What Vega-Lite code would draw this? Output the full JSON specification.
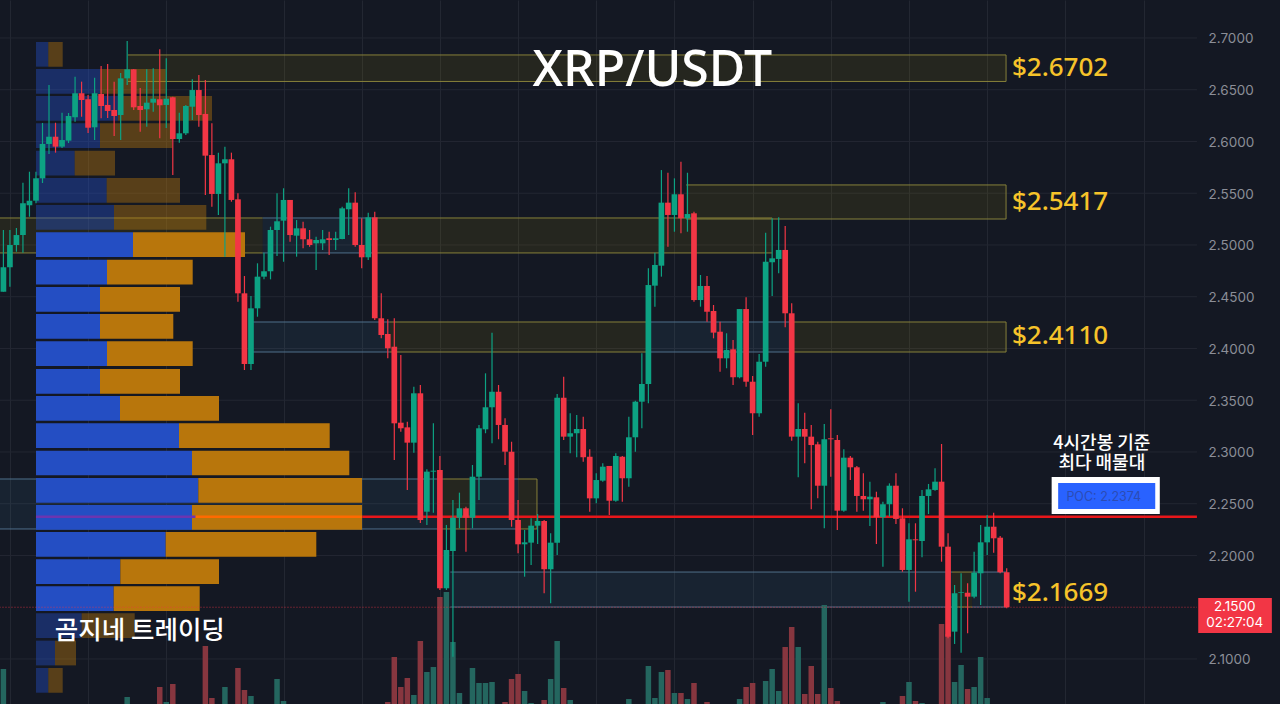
{
  "$schema": "https://vega.github.io/schema/vega-lite/v6.json",
  "width": 1280,
  "height": 704,
  "padding": 0,
  "autosize": {"type": "none"},
  "background": "#141823",
  "view": {"stroke": null},
  "datasets": {
    "zones": [
      {"k":"y","a":19.1,"b":153.9,"lo":2.658,"hi":2.6836,"cap":true},
      {"k":"y","a":-0.6,"b":39.8,"lo":2.4923,"hi":2.5261},
      {"k":"b","a":39.8,"b":57.2,"lo":2.4923,"hi":2.5261},
      {"k":"y","a":57.2,"b":118,"lo":2.4923,"hi":2.5261},
      {"k":"y","a":104.8,"b":153.9,"lo":2.5251,"hi":2.558,"cap":true},
      {"k":"b","a":38.3,"b":59.3,"lo":2.3966,"hi":2.4256},
      {"k":"y","a":59.3,"b":99.3,"lo":2.3966,"hi":2.4256},
      {"k":"b","a":99.3,"b":120.7,"lo":2.3966,"hi":2.4256},
      {"k":"y","a":120.7,"b":153.9,"lo":2.3966,"hi":2.4256,"cap":true},
      {"k":"b","a":-0.6,"b":67.5,"lo":2.2256,"hi":2.2739},
      {"k":"y","a":67.5,"b":71.6,"lo":2.2256,"hi":2.2739},
      {"k":"b","a":71.6,"b":79,"lo":2.2256,"hi":2.2739},
      {"k":"y","a":79,"b":81.9,"lo":2.2256,"hi":2.2739,"cap":true},
      {"k":"b","a":68.6,"b":145.6,"lo":2.1502,"hi":2.184},
      {"k":"y","a":145.6,"b":148.7,"lo":2.1502,"hi":2.184},
      {"k":"b","a":148.7,"b":153.9,"lo":2.1502,"hi":2.184}
    ],
    "bins": [
      {"hi":2.6961,"lo":2.6723,"base":0,"buy":12.3,"total":26.7,"va":"out"},
      {"hi":2.67,"lo":2.6462,"base":0,"buy":64,"total":129.7,"va":"out"},
      {"hi":2.6439,"lo":2.6201,"base":0,"buy":82,"total":176,"va":"out"},
      {"hi":2.6176,"lo":2.5937,"base":0,"buy":64,"total":136,"va":"out"},
      {"hi":2.5911,"lo":2.5672,"base":0,"buy":38.7,"total":79,"va":"out"},
      {"hi":2.5647,"lo":2.5409,"base":0,"buy":70.7,"total":144,"va":"out"},
      {"hi":2.5386,"lo":2.5148,"base":0,"buy":78,"total":170.3,"va":"out"},
      {"hi":2.5123,"lo":2.4884,"base":0,"buy":97,"total":209,"va":"in"},
      {"hi":2.4858,"lo":2.4619,"base":0,"buy":71,"total":156.7,"va":"in"},
      {"hi":2.4594,"lo":2.4355,"base":0,"buy":64,"total":144,"va":"in"},
      {"hi":2.4333,"lo":2.4095,"base":0,"buy":64,"total":137.3,"va":"in"},
      {"hi":2.4069,"lo":2.3831,"base":0,"buy":71,"total":156.7,"va":"in"},
      {"hi":2.3802,"lo":2.3563,"base":0,"buy":64,"total":144,"va":"in"},
      {"hi":2.3541,"lo":2.3302,"base":0,"buy":84,"total":183,"va":"in"},
      {"hi":2.3277,"lo":2.3038,"base":0,"buy":143,"total":293.7,"va":"in"},
      {"hi":2.3012,"lo":2.2774,"base":0,"buy":156,"total":313.3,"va":"in"},
      {"hi":2.2749,"lo":2.251,"base":0,"buy":162.3,"total":326,"va":"in"},
      {"hi":2.2488,"lo":2.2249,"base":0,"buy":156,"total":326,"va":"in"},
      {"hi":2.2227,"lo":2.1988,"base":0,"buy":129.7,"total":280.3,"va":"in"},
      {"hi":2.1963,"lo":2.1724,"base":0,"buy":84.3,"total":183,"va":"in"},
      {"hi":2.1702,"lo":2.1464,"base":0,"buy":77.7,"total":163.7,"va":"in"},
      {"hi":2.1441,"lo":2.1203,"base":0,"buy":45.7,"total":98.7,"va":"out"},
      {"hi":2.1177,"lo":2.0938,"base":0,"buy":19,"total":40,"va":"out"},
      {"hi":2.0913,"lo":2.0674,"base":0,"buy":12.3,"total":26.7,"va":"out"}
    ],
    "candles": [
      {"i":0,"o":2.4549,"h":2.5145,"l":2.4549,"c":2.4784,"d":"up","v":3.5},
      {"i":1,"o":2.4784,"h":2.5145,"l":2.4597,"c":2.5,"d":"up"},
      {"i":2,"o":2.5,"h":2.5164,"l":2.4935,"c":2.5096,"d":"up"},
      {"i":3,"o":2.5096,"h":2.5602,"l":2.4925,"c":2.5403,"d":"up"},
      {"i":4,"o":2.5383,"h":2.5708,"l":2.5273,"c":2.5428,"d":"up"},
      {"i":5,"o":2.5428,"h":2.5708,"l":2.5403,"c":2.5644,"d":"up"},
      {"i":6,"o":2.5644,"h":2.6179,"l":2.5599,"c":2.5976,"d":"up"},
      {"i":7,"o":2.5976,"h":2.6546,"l":2.5879,"c":2.6046,"d":"up"},
      {"i":8,"o":2.6046,"h":2.6181,"l":2.5892,"c":2.595,"d":"down"},
      {"i":9,"o":2.595,"h":2.6278,"l":2.5937,"c":2.6014,"d":"up"},
      {"i":10,"o":2.6008,"h":2.6275,"l":2.5985,"c":2.6246,"d":"up"},
      {"i":11,"o":2.6234,"h":2.6626,"l":2.6191,"c":2.6466,"d":"up"},
      {"i":12,"o":2.6466,"h":2.6578,"l":2.6239,"c":2.6401,"d":"down"},
      {"i":13,"o":2.6408,"h":2.6449,"l":2.6082,"c":2.6133,"d":"down"},
      {"i":14,"o":2.6137,"h":2.6616,"l":2.6014,"c":2.6466,"d":"up"},
      {"i":15,"o":2.6459,"h":2.6729,"l":2.6224,"c":2.6343,"d":"down"},
      {"i":16,"o":2.6353,"h":2.6749,"l":2.6227,"c":2.6295,"d":"down"},
      {"i":17,"o":2.6304,"h":2.6578,"l":2.6053,"c":2.6246,"d":"down"},
      {"i":18,"o":2.6256,"h":2.6662,"l":2.6014,"c":2.661,"d":"up"},
      {"i":19,"o":2.661,"h":2.6971,"l":2.6546,"c":2.6697,"d":"up","v":0.7},
      {"i":20,"o":2.6697,"h":2.67,"l":2.6304,"c":2.633,"d":"down"},
      {"i":21,"o":2.6343,"h":2.6517,"l":2.6095,"c":2.6304,"d":"down"},
      {"i":22,"o":2.6311,"h":2.6697,"l":2.6143,"c":2.6375,"d":"up"},
      {"i":23,"o":2.6375,"h":2.6707,"l":2.6288,"c":2.6413,"d":"up"},
      {"i":24,"o":2.6408,"h":2.6891,"l":2.6031,"c":2.635,"d":"down","v":1.7},
      {"i":25,"o":2.6353,"h":2.6804,"l":2.613,"c":2.6413,"d":"up","v":0.2},
      {"i":26,"o":2.6427,"h":2.6433,"l":2.5676,"c":2.6024,"d":"down","v":2},
      {"i":27,"o":2.6024,"h":2.6278,"l":2.5988,"c":2.6079,"d":"up"},
      {"i":28,"o":2.6079,"h":2.6353,"l":2.6063,"c":2.6343,"d":"up"},
      {"i":29,"o":2.6336,"h":2.6601,"l":2.6208,"c":2.6497,"d":"up"},
      {"i":30,"o":2.6497,"h":2.6642,"l":2.6143,"c":2.6256,"d":"down"},
      {"i":31,"o":2.6266,"h":2.6594,"l":2.5483,"c":2.5863,"d":"down","v":5.8},
      {"i":32,"o":2.5869,"h":2.6176,"l":2.537,"c":2.5493,"d":"down","v":0.6},
      {"i":33,"o":2.5493,"h":2.5892,"l":2.529,"c":2.5789,"d":"up"},
      {"i":34,"o":2.5789,"h":2.595,"l":2.4887,"c":2.5828,"d":"up","v":1.7},
      {"i":35,"o":2.5828,"h":2.5892,"l":2.5418,"c":2.5435,"d":"down"},
      {"i":36,"o":2.5441,"h":2.5499,"l":2.4452,"c":2.4533,"d":"down","v":3.6},
      {"i":37,"o":2.4533,"h":2.47,"l":2.3792,"c":2.385,"d":"down","v":1.4},
      {"i":38,"o":2.385,"h":2.4507,"l":2.3792,"c":2.4388,"d":"up","v":0.8},
      {"i":39,"o":2.4388,"h":2.4823,"l":2.4307,"c":2.4694,"d":"up"},
      {"i":40,"o":2.4694,"h":2.4925,"l":2.4668,"c":2.4746,"d":"up"},
      {"i":41,"o":2.4746,"h":2.5177,"l":2.4668,"c":2.5145,"d":"up"},
      {"i":42,"o":2.5145,"h":2.5499,"l":2.4894,"c":2.5229,"d":"up","v":2.5},
      {"i":43,"o":2.5235,"h":2.5548,"l":2.4838,"c":2.5435,"d":"up","v":0.3},
      {"i":44,"o":2.5435,"h":2.5435,"l":2.5032,"c":2.5096,"d":"down"},
      {"i":45,"o":2.509,"h":2.5241,"l":2.4887,"c":2.5161,"d":"up"},
      {"i":46,"o":2.5161,"h":2.5225,"l":2.4968,"c":2.5055,"d":"down"},
      {"i":47,"o":2.5055,"h":2.5145,"l":2.4983,"c":2.5,"d":"down"},
      {"i":48,"o":2.5016,"h":2.508,"l":2.4758,"c":2.5048,"d":"up"},
      {"i":49,"o":2.5016,"h":2.5145,"l":2.4952,"c":2.5055,"d":"up"},
      {"i":50,"o":2.5065,"h":2.5128,"l":2.4903,"c":2.5048,"d":"down"},
      {"i":51,"o":2.5048,"h":2.5128,"l":2.4952,"c":2.5065,"d":"up"},
      {"i":52,"o":2.5058,"h":2.537,"l":2.5055,"c":2.5354,"d":"up"},
      {"i":53,"o":2.5345,"h":2.5548,"l":2.5096,"c":2.5409,"d":"up"},
      {"i":54,"o":2.5409,"h":2.5509,"l":2.4983,"c":2.5,"d":"down"},
      {"i":55,"o":2.5,"h":2.5258,"l":2.4775,"c":2.4881,"d":"down"},
      {"i":56,"o":2.4881,"h":2.5312,"l":2.4855,"c":2.5267,"d":"up"},
      {"i":57,"o":2.5267,"h":2.5322,"l":2.4275,"c":2.4292,"d":"down"},
      {"i":58,"o":2.4292,"h":2.4533,"l":2.4098,"c":2.413,"d":"down"},
      {"i":59,"o":2.414,"h":2.4282,"l":2.3905,"c":2.4002,"d":"down","v":0.2},
      {"i":60,"o":2.4017,"h":2.4292,"l":2.2923,"c":2.3277,"d":"down","v":4.7},
      {"i":61,"o":2.3283,"h":2.3937,"l":2.3196,"c":2.3229,"d":"down","v":1.7},
      {"i":62,"o":2.3238,"h":2.3293,"l":2.2633,"c":2.309,"d":"down","v":2.6},
      {"i":63,"o":2.309,"h":2.3631,"l":2.2993,"c":2.3567,"d":"up","v":0.9},
      {"i":64,"o":2.3567,"h":2.3647,"l":2.2314,"c":2.2343,"d":"down","v":6.3},
      {"i":65,"o":2.2423,"h":2.2833,"l":2.2295,"c":2.281,"d":"up","v":3.2},
      {"i":66,"o":2.281,"h":2.3277,"l":2.2413,"c":2.2819,"d":"up","v":3.7},
      {"i":67,"o":2.2826,"h":2.2961,"l":2.1667,"c":2.1683,"d":"down","v":10.7},
      {"i":68,"o":2.1683,"h":2.2295,"l":2.1667,"c":2.2053,"d":"up","v":11.2},
      {"i":69,"o":2.2043,"h":2.2536,"l":2.1022,"c":2.2365,"d":"up","v":6.2},
      {"i":70,"o":2.2365,"h":2.2607,"l":2.2263,"c":2.2456,"d":"up","v":1.1},
      {"i":71,"o":2.2456,"h":2.2471,"l":2.2037,"c":2.2365,"d":"down"},
      {"i":72,"o":2.2365,"h":2.2874,"l":2.2263,"c":2.2761,"d":"up","v":3.6},
      {"i":73,"o":2.2761,"h":2.3261,"l":2.2536,"c":2.3229,"d":"up","v":2.1},
      {"i":74,"o":2.3219,"h":2.376,"l":2.3181,"c":2.3432,"d":"up","v":2.1},
      {"i":75,"o":2.3432,"h":2.4153,"l":2.3084,"c":2.3582,"d":"up","v":2.2},
      {"i":76,"o":2.3582,"h":2.3647,"l":2.3123,"c":2.3261,"d":"down"},
      {"i":77,"o":2.3261,"h":2.3325,"l":2.2874,"c":2.3003,"d":"down","v":0.2},
      {"i":78,"o":2.3003,"h":2.3099,"l":2.2278,"c":2.2343,"d":"down","v":2.5},
      {"i":79,"o":2.2343,"h":2.2536,"l":2.2021,"c":2.2108,"d":"down","v":3},
      {"i":80,"o":2.2108,"h":2.2246,"l":2.1795,"c":2.2127,"d":"up","v":1.3},
      {"i":81,"o":2.2124,"h":2.2359,"l":2.1908,"c":2.2288,"d":"up","v":0.1},
      {"i":82,"o":2.2288,"h":2.2401,"l":2.2111,"c":2.2333,"d":"up"},
      {"i":83,"o":2.2333,"h":2.2343,"l":2.1635,"c":2.1867,"d":"down","v":0.4},
      {"i":84,"o":2.1867,"h":2.2214,"l":2.1538,"c":2.2124,"d":"up","v":2.5},
      {"i":85,"o":2.2124,"h":2.356,"l":2.2005,"c":2.3524,"d":"up","v":6.3},
      {"i":86,"o":2.3524,"h":2.3727,"l":2.3116,"c":2.3148,"d":"down","v":1.6},
      {"i":87,"o":2.3148,"h":2.3374,"l":2.2987,"c":2.3181,"d":"up","v":0.4},
      {"i":88,"o":2.3181,"h":2.3357,"l":2.2949,"c":2.3222,"d":"up"},
      {"i":89,"o":2.3222,"h":2.3341,"l":2.2906,"c":2.2949,"d":"down"},
      {"i":90,"o":2.2954,"h":2.3026,"l":2.2423,"c":2.2552,"d":"down"},
      {"i":91,"o":2.2552,"h":2.2794,"l":2.2504,"c":2.2729,"d":"up"},
      {"i":92,"o":2.2723,"h":2.2891,"l":2.2713,"c":2.2858,"d":"up"},
      {"i":93,"o":2.2865,"h":2.2865,"l":2.2391,"c":2.2529,"d":"down"},
      {"i":94,"o":2.2529,"h":2.2987,"l":2.252,"c":2.2961,"d":"up"},
      {"i":95,"o":2.2954,"h":2.2961,"l":2.252,"c":2.2746,"d":"down"},
      {"i":96,"o":2.2746,"h":2.3341,"l":2.2665,"c":2.3142,"d":"up","v":0.5},
      {"i":97,"o":2.3142,"h":2.3496,"l":2.3003,"c":2.3486,"d":"up"},
      {"i":98,"o":2.3486,"h":2.3953,"l":2.3229,"c":2.3657,"d":"up"},
      {"i":99,"o":2.3657,"h":2.4775,"l":2.347,"c":2.4613,"d":"up","v":3.8},
      {"i":100,"o":2.4607,"h":2.4925,"l":2.4404,"c":2.4807,"d":"up","v":0.6},
      {"i":101,"o":2.48,"h":2.5724,"l":2.4694,"c":2.5409,"d":"up","v":3.2},
      {"i":102,"o":2.5409,"h":2.5698,"l":2.4983,"c":2.529,"d":"down","v":3.4},
      {"i":103,"o":2.529,"h":2.5644,"l":2.5128,"c":2.549,"d":"up","v":1.1},
      {"i":104,"o":2.549,"h":2.5805,"l":2.5113,"c":2.5258,"d":"down","v":1.1},
      {"i":105,"o":2.5258,"h":2.5698,"l":2.5128,"c":2.5299,"d":"up","v":0.5},
      {"i":106,"o":2.5306,"h":2.5322,"l":2.4452,"c":2.4468,"d":"down","v":2.1},
      {"i":107,"o":2.4468,"h":2.471,"l":2.4404,"c":2.4604,"d":"up"},
      {"i":108,"o":2.4604,"h":2.47,"l":2.4259,"c":2.4355,"d":"down","v":0.2},
      {"i":109,"o":2.4362,"h":2.442,"l":2.4098,"c":2.4153,"d":"down"},
      {"i":110,"o":2.4162,"h":2.4259,"l":2.3776,"c":2.3905,"d":"down"},
      {"i":111,"o":2.3905,"h":2.4147,"l":2.3809,"c":2.3985,"d":"up"},
      {"i":112,"o":2.3992,"h":2.4082,"l":2.3647,"c":2.3722,"d":"down"},
      {"i":113,"o":2.3722,"h":2.4381,"l":2.3712,"c":2.4381,"d":"up","v":0.5},
      {"i":114,"o":2.4381,"h":2.4495,"l":2.3631,"c":2.3679,"d":"down","v":1.7},
      {"i":115,"o":2.3679,"h":2.3734,"l":2.3164,"c":2.3374,"d":"down","v":2.1},
      {"i":116,"o":2.3374,"h":2.3947,"l":2.3341,"c":2.3872,"d":"up"},
      {"i":117,"o":2.3872,"h":2.5119,"l":2.3824,"c":2.4838,"d":"up","v":2.3},
      {"i":118,"o":2.4833,"h":2.5258,"l":2.4507,"c":2.4871,"d":"up","v":3.5},
      {"i":119,"o":2.4865,"h":2.5267,"l":2.4726,"c":2.4952,"d":"up","v":1.3},
      {"i":120,"o":2.4952,"h":2.5183,"l":2.4205,"c":2.434,"d":"down","v":5.7},
      {"i":121,"o":2.434,"h":2.4437,"l":2.3109,"c":2.3148,"d":"down","v":7.7},
      {"i":122,"o":2.3148,"h":2.347,"l":2.2755,"c":2.3222,"d":"up","v":5.7},
      {"i":123,"o":2.3222,"h":2.338,"l":2.2891,"c":2.3148,"d":"down","v":1},
      {"i":124,"o":2.3148,"h":2.3261,"l":2.2446,"c":2.3067,"d":"down","v":3.8},
      {"i":125,"o":2.3074,"h":2.3099,"l":2.2552,"c":2.2674,"d":"down","v":1},
      {"i":126,"o":2.2674,"h":2.327,"l":2.2263,"c":2.3123,"d":"up","v":9.9},
      {"i":127,"o":2.3132,"h":2.3412,"l":2.2761,"c":2.3123,"d":"down","v":1.6},
      {"i":128,"o":2.3116,"h":2.3164,"l":2.2246,"c":2.2433,"d":"down","v":0.3},
      {"i":129,"o":2.2433,"h":2.3026,"l":2.2423,"c":2.2945,"d":"up"},
      {"i":130,"o":2.2945,"h":2.2961,"l":2.2729,"c":2.2852,"d":"down"},
      {"i":131,"o":2.2852,"h":2.2865,"l":2.2423,"c":2.2575,"d":"down"},
      {"i":132,"o":2.2575,"h":2.2794,"l":2.2433,"c":2.2543,"d":"down"},
      {"i":133,"o":2.2543,"h":2.2713,"l":2.2285,"c":2.2568,"d":"up"},
      {"i":134,"o":2.2562,"h":2.2616,"l":2.2111,"c":2.2369,"d":"down"},
      {"i":135,"o":2.2369,"h":2.252,"l":2.1892,"c":2.2495,"d":"up","v":0.2},
      {"i":136,"o":2.2495,"h":2.2697,"l":2.2375,"c":2.2674,"d":"up"},
      {"i":137,"o":2.2674,"h":2.2794,"l":2.2304,"c":2.2353,"d":"down"},
      {"i":138,"o":2.2359,"h":2.2456,"l":2.1843,"c":2.186,"d":"down","v":0.8},
      {"i":139,"o":2.186,"h":2.2311,"l":2.1553,"c":2.2156,"d":"up","v":2.2},
      {"i":140,"o":2.2156,"h":2.2311,"l":2.165,"c":2.2147,"d":"down","v":0.3},
      {"i":141,"o":2.214,"h":2.2633,"l":2.1982,"c":2.2575,"d":"up","v":0.1},
      {"i":142,"o":2.2575,"h":2.2691,"l":2.2401,"c":2.2639,"d":"up"},
      {"i":143,"o":2.2633,"h":2.2842,"l":2.2626,"c":2.2713,"d":"up"},
      {"i":144,"o":2.2713,"h":2.3077,"l":2.194,"c":2.2085,"d":"down","v":8},
      {"i":145,"o":2.2085,"h":2.2214,"l":2.12,"c":2.1215,"d":"down","v":7},
      {"i":146,"o":2.1264,"h":2.1715,"l":2.1145,"c":2.1635,"d":"up","v":2.2},
      {"i":147,"o":2.164,"h":2.1828,"l":2.1061,"c":2.1647,"d":"up","v":3.9},
      {"i":148,"o":2.164,"h":2.1731,"l":2.1248,"c":2.1602,"d":"down","v":1.5},
      {"i":149,"o":2.1602,"h":2.2037,"l":2.1586,"c":2.1834,"d":"up","v":1.7},
      {"i":150,"o":2.1828,"h":2.2295,"l":2.1522,"c":2.2127,"d":"up","v":4.7},
      {"i":151,"o":2.2127,"h":2.2391,"l":2.2005,"c":2.2278,"d":"up","v":0.6},
      {"i":152,"o":2.2278,"h":2.2413,"l":2.2027,"c":2.2166,"d":"down"},
      {"i":153,"o":2.2172,"h":2.2188,"l":2.1828,"c":2.1838,"d":"down"},
      {"i":154,"o":2.1838,"h":2.1876,"l":2.149,"c":2.15,"d":"down"}
    ]
  },
  "resolve": {"scale": {"x": "independent", "y": "independent", "color": "independent", "opacity": "independent", "stroke": "independent", "fill": "independent"}},
  "layer": [
    {
      "data": {"values": [{"a":-0.6,"b":183.2,"p":2.7},{"a":-0.6,"b":183.2,"p":2.65},{"a":-0.6,"b":183.2,"p":2.6},{"a":-0.6,"b":183.2,"p":2.55},{"a":-0.6,"b":183.2,"p":2.5},{"a":-0.6,"b":183.2,"p":2.45},{"a":-0.6,"b":183.2,"p":2.4},{"a":-0.6,"b":183.2,"p":2.35},{"a":-0.6,"b":183.2,"p":2.3},{"a":-0.6,"b":183.2,"p":2.25},{"a":-0.6,"b":183.2,"p":2.2},{"a":-0.6,"b":183.2,"p":2.1}]},
      "mark": {"type": "rule", "color": "#232732", "strokeWidth": 1},
      "encoding": {
        "x": {"field": "a", "type": "quantitative", "scale": {"domain": [-0.522, 195.95], "nice": false, "zero": false},
          "axis": {"title": null, "labels": false, "ticks": false, "domain": false, "grid": true, "gridColor": "#232732", "gridWidth": 1, "values": [1, 13, 25, 43, 55, 67, 79, 91, 103, 115, 127, 139, 151, 163, 175]}},
        "x2": {"field": "b"},
        "y": {"field": "p", "type": "quantitative", "scale": {"domain": [2.0565, 2.7367], "nice": false, "zero": false},
          "axis": {"orient": "right", "offset": -74, "title": null, "domain": false, "ticks": false, "grid": false, "labelPadding": 2, "labelOffset": 1, "labelColor": "#8b8e97", "labelFontSize": 13.5, "labelFont": "Inter", "format": ".4f", "values": [2.7, 2.65, 2.6, 2.55, 2.5, 2.45, 2.4, 2.35, 2.3, 2.25, 2.2, 2.1]}}
      }
    },
    {
      "layer": [
        {
          "data": {"name": "zones"},
          "mark": {"type": "rect", "fillOpacity": 0.1},
          "encoding": {
            "x": {"field": "a", "type": "quantitative", "scale": {"domain": [-0.522, 195.95], "nice": false, "zero": false}, "axis": null},
            "x2": {"field": "b"},
            "y": {"field": "lo", "type": "quantitative", "scale": {"domain": [2.0565, 2.7367], "nice": false, "zero": false}, "axis": null},
            "y2": {"field": "hi"},
            "fill": {"field": "k", "type": "nominal", "scale": {"domain": ["y", "b"], "range": ["#c8aa00", "#468caf"]}, "legend": null}
          }
        },
        {
          "data": {"name": "zones"},
          "mark": {"type": "rule", "strokeWidth": 1},
          "encoding": {
            "x": {"field": "a", "type": "quantitative", "scale": {"domain": [-0.522, 195.95], "nice": false, "zero": false}, "axis": null},
            "x2": {"field": "b"},
            "y": {"field": "lo", "type": "quantitative", "scale": {"domain": [2.0565, 2.7367], "nice": false, "zero": false}, "axis": null},
            "stroke": {"field": "k", "type": "nominal", "scale": {"domain": ["y", "b"], "range": ["#86803a", "#4f6f8a"]}, "legend": null}
          }
        },
        {
          "data": {"name": "zones"},
          "mark": {"type": "rule", "strokeWidth": 1},
          "encoding": {
            "x": {"field": "a", "type": "quantitative", "scale": {"domain": [-0.522, 195.95], "nice": false, "zero": false}, "axis": null},
            "x2": {"field": "b"},
            "y": {"field": "hi", "type": "quantitative", "scale": {"domain": [2.0565, 2.7367], "nice": false, "zero": false}, "axis": null},
            "stroke": {"field": "k", "type": "nominal", "scale": {"domain": ["y", "b"], "range": ["#86803a", "#4f6f8a"]}, "legend": null}
          }
        },
        {
          "data": {"name": "zones"},
          "transform": [{"filter": "datum.cap"}],
          "mark": {"type": "rule", "strokeWidth": 1, "color": "#86803a"},
          "encoding": {
            "x": {"field": "b", "type": "quantitative", "scale": {"domain": [-0.522, 195.95], "nice": false, "zero": false}, "axis": null},
            "y": {"field": "lo", "type": "quantitative", "scale": {"domain": [2.0565, 2.7367], "nice": false, "zero": false}, "axis": null},
            "y2": {"field": "hi"}
          }
        }
      ]
    },
    {
      "data": {"name": "candles"},
      "mark": {"type": "bar", "size": 5.5, "orient": "vertical"},
      "encoding": {
        "x": {"field": "i", "type": "quantitative", "scale": {"domain": [-0.522, 195.95], "nice": false, "zero": false, "padding": 0}, "axis": null},
        "y": {"field": "v", "type": "quantitative", "stack": null, "scale": {"domain": [0, 70.4], "nice": false}, "axis": null},
        "color": {"field": "d", "type": "nominal", "scale": {"domain": ["up", "down"], "range": ["#24665f", "#87363f"]}, "legend": null}
      }
    },
    {
      "data": {"name": "bins"},
      "layer": [
        {
          "mark": {"type": "rect", "color": "#244ec3"},
          "encoding": {
            "x": {"field": "base", "type": "quantitative", "scale": {"domain": [0, 1244], "range": [36, 1280], "nice": false, "zero": false}, "axis": null},
            "x2": {"field": "buy"},
            "y": {"field": "lo", "type": "quantitative", "scale": {"domain": [2.0565, 2.7367], "nice": false, "zero": false}, "axis": null},
            "y2": {"field": "hi"},
            "opacity": {"field": "va", "type": "nominal", "scale": {"domain": ["in", "out"], "range": [1, 0.42]}, "legend": null}
          }
        },
        {
          "mark": {"type": "rect", "color": "#b8760c"},
          "encoding": {
            "x": {"field": "buy", "type": "quantitative", "scale": {"domain": [0, 1244], "range": [36, 1280], "nice": false, "zero": false}, "axis": null},
            "x2": {"field": "total"},
            "y": {"field": "lo", "type": "quantitative", "scale": {"domain": [2.0565, 2.7367], "nice": false, "zero": false}, "axis": null},
            "y2": {"field": "hi"},
            "opacity": {"field": "va", "type": "nominal", "scale": {"domain": ["in", "out"], "range": [1, 0.42]}, "legend": null}
          }
        }
      ]
    },
    {
      "layer": [
        {
          "data": {"values": [{"a":5,"b":29.5,"p":2.2374,"part":"blue"},{"a":29.5,"b":55.1,"p":2.2374,"part":"orange"},{"a":55.1,"b":183.2,"p":2.2374,"part":"free"}]},
          "mark": {"type": "rule", "strokeWidth": 2.6},
          "encoding": {
            "x": {"field": "a", "type": "quantitative", "scale": {"domain": [-0.522, 195.95], "nice": false, "zero": false}, "axis": null},
            "x2": {"field": "b"},
            "y": {"field": "p", "type": "quantitative", "scale": {"domain": [2.0565, 2.7367], "nice": false, "zero": false}, "axis": null},
            "stroke": {"field": "part", "type": "nominal", "scale": {"domain": ["blue", "orange", "free"], "range": ["#6c35b0", "#ff6a00", "#e8161a"]}, "legend": null}
          }
        },
        {
          "data": {"values": [{"a":-0.6,"b":183.2,"p":2.15}]},
          "mark": {"type": "rule", "color": "#f23645", "strokeWidth": 1, "strokeDash": [1, 2], "opacity": 0.75},
          "encoding": {
            "x": {"field": "a", "type": "quantitative", "scale": {"domain": [-0.522, 195.95], "nice": false, "zero": false}, "axis": null},
            "x2": {"field": "b"},
            "y": {"field": "p", "type": "quantitative", "scale": {"domain": [2.0565, 2.7367], "nice": false, "zero": false}, "axis": null}
          }
        },
        {
          "data": {"name": "candles"},
          "mark": {"type": "rule", "strokeWidth": 1.2},
          "encoding": {
            "x": {"field": "i", "type": "quantitative", "scale": {"domain": [-0.522, 195.95], "nice": false, "zero": false}, "axis": null},
            "y": {"field": "h", "type": "quantitative", "scale": {"domain": [2.0565, 2.7367], "nice": false, "zero": false}, "axis": null},
            "y2": {"field": "l"},
            "color": {"field": "d", "type": "nominal", "scale": {"domain": ["up", "down"], "range": ["#0da283", "#f23645"]}, "legend": null}
          }
        },
        {
          "data": {"name": "candles"},
          "mark": {"type": "bar", "size": 5.7, "orient": "vertical"},
          "encoding": {
            "x": {"field": "i", "type": "quantitative", "scale": {"domain": [-0.522, 195.95], "nice": false, "zero": false, "padding": 0}, "axis": null},
            "y": {"field": "o", "type": "quantitative", "scale": {"domain": [2.0565, 2.7367], "nice": false, "zero": false}, "axis": null},
            "y2": {"field": "c"},
            "color": {"field": "d", "type": "nominal", "scale": {"domain": ["up", "down"], "range": ["#0da283", "#f23645"]}, "legend": null}
          }
        },
        {
          "data": {"values": [{"a":183.4,"b":194.7,"lo":2.1251,"hi":2.1589}]},
          "mark": {"type": "rect", "color": "#f23645"},
          "encoding": {
            "x": {"field": "a", "type": "quantitative", "scale": {"domain": [-0.522, 195.95], "nice": false, "zero": false}, "axis": null},
            "x2": {"field": "b"},
            "y": {"field": "lo", "type": "quantitative", "scale": {"domain": [2.0565, 2.7367], "nice": false, "zero": false}, "axis": null},
            "y2": {"field": "hi"}
          }
        },
        {
          "data": {"values": [{"a":160.9,"b":177.5,"lo":2.2401,"hi":2.2758}]},
          "mark": {"type": "rect", "color": "#ffffff"},
          "encoding": {
            "x": {"field": "a", "type": "quantitative", "scale": {"domain": [-0.522, 195.95], "nice": false, "zero": false}, "axis": null},
            "x2": {"field": "b"},
            "y": {"field": "lo", "type": "quantitative", "scale": {"domain": [2.0565, 2.7367], "nice": false, "zero": false}, "axis": null},
            "y2": {"field": "hi"}
          }
        },
        {
          "data": {"values": [{"a":161.9,"b":176.8,"lo":2.2449,"hi":2.27}]},
          "mark": {"type": "rect", "color": "#2962ff"},
          "encoding": {
            "x": {"field": "a", "type": "quantitative", "scale": {"domain": [-0.522, 195.95], "nice": false, "zero": false}, "axis": null},
            "x2": {"field": "b"},
            "y": {"field": "lo", "type": "quantitative", "scale": {"domain": [2.0565, 2.7367], "nice": false, "zero": false}, "axis": null},
            "y2": {"field": "hi"}
          }
        },
        {
          "data": {"values": [{"i":168.9,"p":2.2562,"t":"POC: 2.2374"}]},
          "mark": {"type": "text", "font": "Inter", "fontSize": 12.5, "color": "#2c4cb4", "baseline": "middle", "align": "center"},
          "encoding": {
            "x": {"field": "i", "type": "quantitative", "scale": {"domain": [-0.522, 195.95], "nice": false, "zero": false}, "axis": null},
            "y": {"field": "p", "type": "quantitative", "scale": {"domain": [2.0565, 2.7367], "nice": false, "zero": false}, "axis": null},
            "text": {"field": "t"}
          }
        },
        {
          "data": {"values": [{"i":189,"p":2.15,"t":"2.1500"},{"i":189,"p":2.1348,"t":"02:27:04"}]},
          "mark": {"type": "text", "font": "Inter", "fontSize": 13.5, "color": "#ffffff", "baseline": "middle", "align": "center"},
          "encoding": {
            "x": {"field": "i", "type": "quantitative", "scale": {"domain": [-0.522, 195.95], "nice": false, "zero": false}, "axis": null},
            "y": {"field": "p", "type": "quantitative", "scale": {"domain": [2.0565, 2.7367], "nice": false, "zero": false}, "axis": null},
            "text": {"field": "t"}
          }
        },
        {
          "data": {"values": [{"i":99.6,"p":2.668,"t":"XRP/USDT"}]},
          "mark": {"type": "text", "font": "Noto Sans", "fontSize": 50, "fontWeight": 500, "color": "#ffffff", "baseline": "middle", "align": "center"},
          "encoding": {
            "x": {"field": "i", "type": "quantitative", "scale": {"domain": [-0.522, 195.95], "nice": false, "zero": false}, "axis": null},
            "y": {"field": "p", "type": "quantitative", "scale": {"domain": [2.0565, 2.7367], "nice": false, "zero": false}, "axis": null},
            "text": {"field": "t"}
          }
        },
        {
          "data": {"values": [{"i":154.8,"p":2.671,"t":"$2.6702"},{"i":154.8,"p":2.5415,"t":"$2.5417"},{"i":154.8,"p":2.412,"t":"$2.4110"},{"i":154.8,"p":2.1637,"t":"$2.1669"}]},
          "mark": {"type": "text", "font": "Noto Sans", "fontSize": 26, "fontWeight": 500, "color": "#f6c32a", "baseline": "middle", "align": "left"},
          "encoding": {
            "x": {"field": "i", "type": "quantitative", "scale": {"domain": [-0.522, 195.95], "nice": false, "zero": false}, "axis": null},
            "y": {"field": "p", "type": "quantitative", "scale": {"domain": [2.0565, 2.7367], "nice": false, "zero": false}, "axis": null},
            "text": {"field": "t"}
          }
        },
        {
          "data": {"values": [{"i":168.6,"p":2.308,"t":"4시간봉 기준"},{"i":168.6,"p":2.2887,"t":"최다 매물대"}]},
          "mark": {"type": "text", "font": "Noto Sans CJK KR", "fontSize": 18, "fontWeight": 500, "color": "#ffffff", "baseline": "middle", "align": "center"},
          "encoding": {
            "x": {"field": "i", "type": "quantitative", "scale": {"domain": [-0.522, 195.95], "nice": false, "zero": false}, "axis": null},
            "y": {"field": "p", "type": "quantitative", "scale": {"domain": [2.0565, 2.7367], "nice": false, "zero": false}, "axis": null},
            "text": {"field": "t"}
          }
        },
        {
          "data": {"values": [{"i":7.9,"p":2.127,"t":"곰지네 트레이딩"}]},
          "mark": {"type": "text", "font": "Noto Sans CJK KR", "fontSize": 25.5, "fontWeight": 500, "color": "#ffffff", "baseline": "middle", "align": "left"},
          "encoding": {
            "x": {"field": "i", "type": "quantitative", "scale": {"domain": [-0.522, 195.95], "nice": false, "zero": false}, "axis": null},
            "y": {"field": "p", "type": "quantitative", "scale": {"domain": [2.0565, 2.7367], "nice": false, "zero": false}, "axis": null},
            "text": {"field": "t"}
          }
        }
      ]
    }
  ]
}
